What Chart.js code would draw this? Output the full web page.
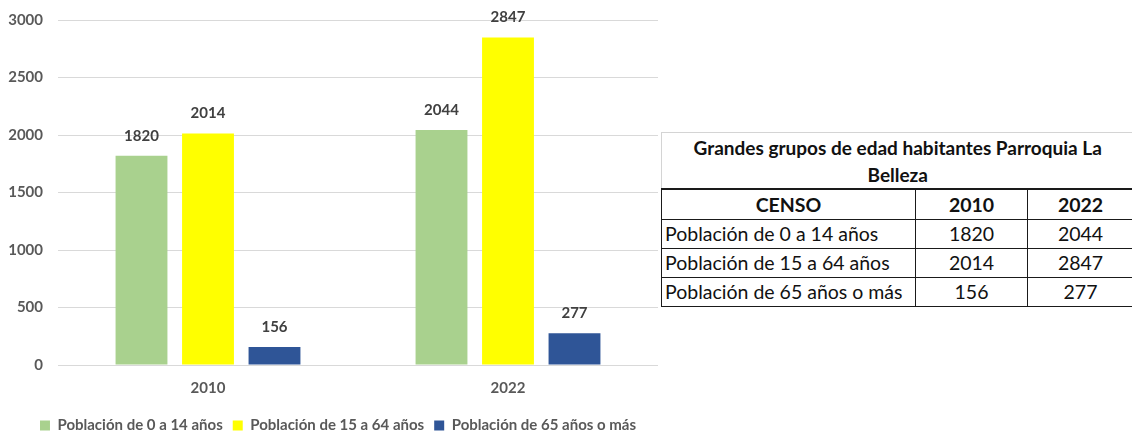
<!DOCTYPE html>
<html lang="es">
<head>
<meta charset="utf-8">
<title>Grandes grupos de edad habitantes Parroquia La Belleza</title>
<script src="https://cdn.jsdelivr.net/npm/chart.js@4.4.1/dist/chart.umd.min.js"></script>
<style>
  html, body { margin: 0; padding: 0; background: #ffffff; }
  body { width: 1132px; height: 435px; position: relative; overflow: hidden; }
  #chartBox { position: absolute; left: 0; top: 0; width: 660px; height: 435px; }
  #tabla {
    position: absolute; left: 661px; top: 132px; width: 472px;
    border-collapse: collapse; table-layout: fixed;
    font-family: Lato, "Open Sans", sans-serif; font-size: 19.5px; color: #111;
  }
  #tabla td, #tabla th { border: 1px solid #1a1a1a; padding: 0; height: 28px; line-height: 28px; white-space: nowrap; }
  #tabla tr.encabezado th { height: 29px; line-height: 29px; }
  #tabla th.titulo {
    border-top: 1px solid #d4d4d4; border-left: 1px solid #d4d4d4; border-right: none;
    border-bottom: 2px solid #1a1a1a; height: 55px; line-height: 27px; text-align: center;
    font-size: 19px;
  }
  #tabla th { font-weight: bold; text-align: center; }
  #tabla td { text-align: center; }
  #tabla td.fila { text-align: left; padding-left: 3px; }
</style>
</head>
<body>
<div id="chartBox"><canvas id="grafico" width="660" height="435"></canvas></div>
<table id="tabla"></table>
<script>
// Census years and age groups
const categorias = ['2010', '2022'];
const grupos = ['Población de 0 a 14 años', 'Población de 15 a 64 años', 'Población de 65 años o más'];
const poblacion0a14 = [1820, 2044];
const poblacion15a64 = [2014, 2847];
const poblacion65mas = [156, 277];
const ticksY = [0, 500, 1000, 1500, 2000, 2500, 3000];
const tituloTabla = ['Grandes grupos de edad habitantes Parroquia La', 'Belleza'];
const encabezado = ['CENSO', '2010', '2022'];

const colores = ['#A9D18E', '#FFFF00', '#2F5597'];
const series = [poblacion0a14, poblacion15a64, poblacion65mas];
const fuente = 'Lato, "Open Sans", sans-serif';
const fuenteGrafico = { family: fuente, size: 15, weight: 'bold' };

// Value labels above each bar
const etiquetasValor = {
  id: 'etiquetasValor',
  afterDatasetsDraw(chart) {
    const ctx = chart.ctx;
    ctx.save();
    ctx.font = 'bold 15px ' + fuente;
    ctx.fillStyle = '#404040';
    ctx.textAlign = 'center';
    ctx.textBaseline = 'middle';
    chart.data.datasets.forEach((ds, i) => {
      chart.getDatasetMeta(i).data.forEach((bar, j) => {
        ctx.fillText(String(ds.data[j]), bar.x, bar.y - 20);
      });
    });
    ctx.restore();
  }
};

// Centre the legend row under the whole chart block rather than the padded box
const desplazarLeyenda = {
  id: 'desplazarLeyenda',
  afterLayout(chart) {
    if (chart.legend) { chart.legend.left += 9; chart.legend.right += 9; }
  }
};

new Chart(document.getElementById('grafico'), {
  type: 'bar',
  data: {
    labels: categorias,
    datasets: grupos.map((g, i) => ({
      label: g,
      data: series[i],
      backgroundColor: colores[i],
      borderWidth: 0,
      categoryPercentage: 0.665,
      barPercentage: 0.78
    }))
  },
  options: {
    responsive: false,
    animation: false,
    layout: { padding: { top: 20, right: 2, bottom: -8, left: 0 } },
    plugins: {
      tooltip: { enabled: false },
      legend: {
        position: 'bottom',
        labels: {
          boxWidth: 10, boxHeight: 10, padding: 10,
          color: '#595959',
          font: fuenteGrafico
        }
      }
    },
    scales: {
      x: {
        grid: { display: false },
        border: { display: false },
        afterFit: s => { s.height = 43; },
        ticks: { color: '#595959', padding: 6, font: fuenteGrafico }
      },
      y: {
        min: 0, max: 3000,
        afterBuildTicks: s => { s.ticks = ticksY.map(v => ({ value: v })); },
        afterFit: s => { s.width = 58; s.paddingTop = 0; s.paddingBottom = 0; },
        grid: { color: '#D9D9D9', lineWidth: 1, drawTicks: false },
        border: { display: false },
        ticks: {
          color: '#595959', padding: 15, font: fuenteGrafico,
          callback: v => String(v)
        }
      }
    }
  },
  plugins: [etiquetasValor, desplazarLeyenda]
});

// Companion data table built from the same arrays
const tabla = document.getElementById('tabla');
const cg = document.createElement('colgroup');
[254, 112, 106].forEach(w => { const c = document.createElement('col'); c.style.width = w + 'px'; cg.appendChild(c); });
tabla.appendChild(cg);
const trT = tabla.insertRow();
const th = document.createElement('th');
th.colSpan = 3; th.className = 'titulo';
th.innerHTML = tituloTabla.join('<br>');
trT.appendChild(th);
const trH = tabla.insertRow();
trH.className = 'encabezado';
encabezado.forEach(t => { const h = document.createElement('th'); h.textContent = t; trH.appendChild(h); });
grupos.forEach((g, i) => {
  const tr = tabla.insertRow();
  const c0 = tr.insertCell(); c0.className = 'fila'; c0.textContent = g;
  series[i].forEach(v => { const c = tr.insertCell(); c.textContent = v; });
});
</script>
</body>
</html>
